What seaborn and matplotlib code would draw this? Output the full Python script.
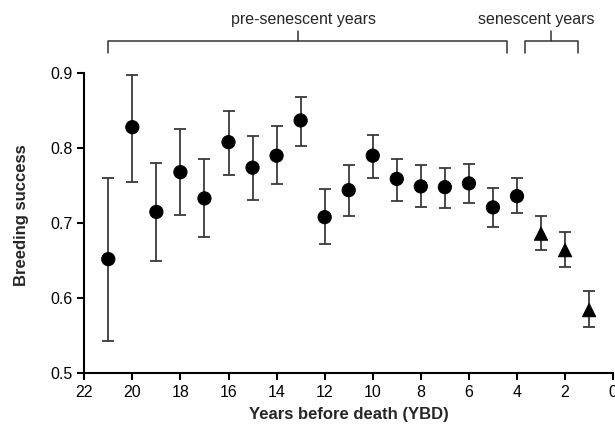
import matplotlib
matplotlib.use('Agg')
import matplotlib.pyplot as plt
import numpy as np
import pandas as pd
import seaborn as sns

# years before death and breeding success (mean with upper/lower error limits)
ybd = [21, 20, 19, 18, 17, 16, 15, 14, 13, 12, 11, 10, 9, 8, 7, 6, 5, 4, 3, 2, 1]
success = [0.652, 0.828, 0.715, 0.768, 0.733, 0.808, 0.774, 0.790, 0.837, 0.708, 0.744,
           0.790, 0.759, 0.749, 0.748, 0.753, 0.721, 0.736, 0.686, 0.664, 0.584]
upper = [0.760, 0.898, 0.780, 0.825, 0.786, 0.850, 0.816, 0.829, 0.868, 0.745, 0.777,
         0.818, 0.786, 0.777, 0.774, 0.779, 0.747, 0.760, 0.710, 0.688, 0.610]
lower = [0.543, 0.755, 0.649, 0.711, 0.681, 0.764, 0.731, 0.752, 0.803, 0.672, 0.710,
         0.760, 0.729, 0.722, 0.720, 0.727, 0.695, 0.713, 0.664, 0.642, 0.562]
phase = ['pre-senescent'] * 18 + ['senescent'] * 3

df = pd.DataFrame({'ybd': ybd, 'success': success, 'upper': upper, 'lower': lower, 'phase': phase})

sns.set_style('ticks')
plt.rcParams['font.family'] = ['Liberation Sans', 'DejaVu Sans']

fig = plt.figure(figsize=(6.15, 4.41), dpi=100)
ax = fig.add_axes([0.137, 0.154, 0.86, 0.68])

yerr = np.vstack([df['success'] - df['lower'], df['upper'] - df['success']])
ax.errorbar(df['ybd'], df['success'], yerr=yerr, fmt='none', ecolor='#3a3a3a',
            elinewidth=1.3, capsize=4.5, capthick=1.3, zorder=2)
sns.scatterplot(data=df, x='ybd', y='success', style='phase', markers={'pre-senescent': 'o', 'senescent': '^'},
                color='black', s=90, edgecolor='black', legend=False, ax=ax, zorder=3)

ax.set_xlim(22, 0)
ax.set_ylim(0.5, 0.9)
ax.set_xticks(np.arange(22, -1, -2))
ax.set_yticks([0.5, 0.6, 0.7, 0.8, 0.9])
ax.set_yticklabels(['0.5', '0.6', '0.7', '0.8', '0.9'])
ax.tick_params(axis='both', labelsize=11.5, width=1.5, length=5, color='black', labelcolor='black')
for s in ['left', 'bottom']:
    ax.spines[s].set_linewidth(1.5)
    ax.spines[s].set_color('black')
sns.despine(ax=ax)

ax.set_xlabel('Years before death (YBD)', fontsize=12, fontweight='bold', labelpad=5)
ax.set_ylabel('Breeding success', fontsize=12, fontweight='bold', labelpad=15, y=0.527)

# brackets above the plot
def bracket(x0, x1, xm, xt, label):
    tr = ax.get_xaxis_transform()
    yb, yt, ytop = 1.068, 1.108, 1.14
    ax.plot([x0, x0, x1, x1], [yb, yt, yt, yb], color='#333333', lw=1.1, transform=tr, clip_on=False)
    ax.plot([xm, xm], [yt, ytop], color='#333333', lw=1.1, transform=tr, clip_on=False)
    ax.text(xt, 1.165, label, ha='center', va='baseline', fontsize=11.5, transform=tr, clip_on=False)

bracket(21, 4.4, 13.1, 12.9, 'pre-senescent years')
bracket(3.65, 1.45, 2.6, 3.2, 'senescent years')

plt.savefig('out.png', dpi=100)
plt.close()
